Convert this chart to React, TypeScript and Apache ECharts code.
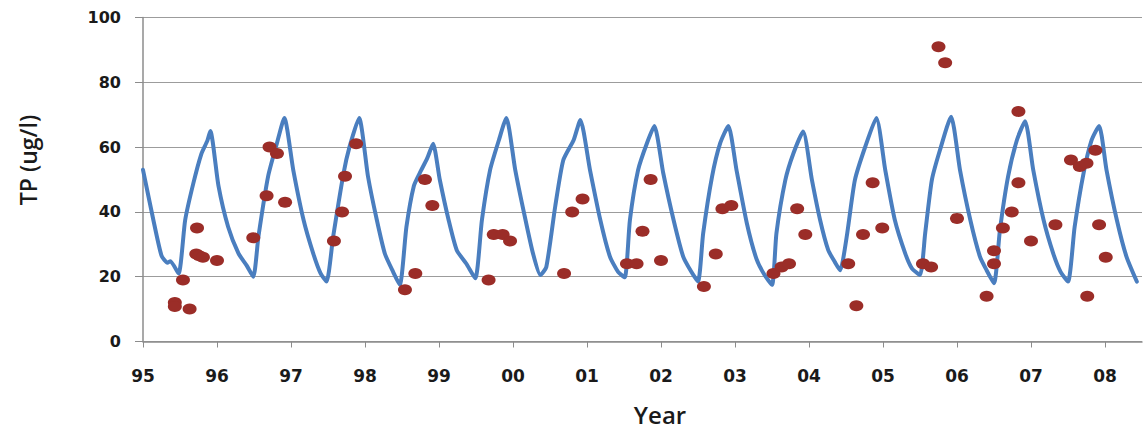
import React, { useEffect, useRef } from "react";
import * as echarts from "echarts";

// Modelled TP (blue line): decimal year and value
const lineYears: number[] = [
  1995.0, 1995.14, 1995.25, 1995.33, 1995.37, 1995.48, 1995.57, 1995.68, 1995.79, 1995.87, 1995.91,
  1996.02, 1996.15, 1996.29, 1996.4, 1996.49, 1996.56, 1996.69, 1996.81, 1996.91,
  1997.03, 1997.17, 1997.3, 1997.4, 1997.48, 1997.57, 1997.71, 1997.79, 1997.92,
  1998.04, 1998.16, 1998.27, 1998.38, 1998.47, 1998.56, 1998.66, 1998.74, 1998.84, 1998.92,
  1999.01, 1999.13, 1999.24, 1999.37, 1999.49, 1999.58, 1999.69, 1999.81, 1999.91,
  2000.03, 2000.16, 2000.27, 2000.37, 2000.45, 2000.57, 2000.68, 2000.82, 2000.91,
  2001.04, 2001.18, 2001.31, 2001.42, 2001.51, 2001.58, 2001.69, 2001.81, 2001.91,
  2002.03, 2002.17, 2002.3, 2002.41, 2002.5, 2002.57, 2002.69, 2002.8, 2002.91,
  2003.02, 2003.16, 2003.29, 2003.4, 2003.5, 2003.56, 2003.68, 2003.79, 2003.92,
  2004.04, 2004.15, 2004.26, 2004.35, 2004.42, 2004.51, 2004.62, 2004.76, 2004.91,
  2005.03, 2005.16, 2005.3, 2005.39, 2005.5, 2005.57, 2005.66, 2005.77, 2005.92,
  2006.04, 2006.18, 2006.31, 2006.4, 2006.5, 2006.58, 2006.69, 2006.81, 2006.92,
  2007.03, 2007.17, 2007.3, 2007.4, 2007.5, 2007.59, 2007.71, 2007.82, 2007.92,
  2008.02, 2008.16, 2008.29, 2008.43,
];
const lineValues: number[] = [
  53, 37.5, 26.5, 24.3, 24.8, 21, 37.5, 48.8, 58, 62, 65,
  48, 35.4, 27.2, 23.5, 20, 32.4, 50.9, 61.2, 69,
  53, 37.5, 27.2, 21, 18.5, 32.4, 51.9, 60, 69,
  51, 37.5, 27, 21.5, 17.5, 35.4, 48, 52, 56.5, 61,
  50, 37.5, 28.2, 24, 19.5, 37.5, 52.9, 62.2, 69,
  53, 38.5, 27.2, 20.5, 23, 41.6, 56, 62.2, 68.4,
  53, 37.5, 26.2, 21.5, 19.8, 37.5, 52.9, 61.2, 66.5,
  52, 37.5, 26.2, 21.5, 18.5, 33.4, 50.9, 61.2, 66.5,
  53, 36.5, 25.5, 20.5, 17.5, 33.4, 49.8, 58.1, 64.8,
  49.8, 37.5, 28.2, 24.5, 22, 32.4, 49.8, 60.1, 69,
  53, 37.5, 27.2, 22.6, 20.5, 33.4, 49.8, 59.1, 69.4,
  53, 37.5, 26.2, 22, 18, 34.4, 50.9, 62.2, 68,
  53, 37.5, 27.2, 21.5, 18.5, 35.4, 51.9, 62.2, 66.5,
  53, 37.5, 26.2, 18.5,
];

// Measured TP (red dots)
const obsYears: number[] = [
  1995.43, 1995.43, 1995.54, 1995.63, 1995.73, 1995.72, 1995.76, 1995.81, 1996.0,
  1996.49, 1996.67, 1996.71, 1996.81, 1996.92,
  1997.58, 1997.69, 1997.73, 1997.88,
  1998.54, 1998.68, 1998.81, 1998.91,
  1999.67, 1999.74, 1999.86, 1999.96,
  2000.69, 2000.8, 2000.94,
  2001.54, 2001.67, 2001.75, 2001.86, 2002.0,
  2002.58, 2002.74, 2002.83, 2002.95,
  2003.52, 2003.63, 2003.73, 2003.84, 2003.95,
  2004.53, 2004.64, 2004.73, 2004.86, 2004.99,
  2005.54, 2005.65, 2005.75, 2005.84, 2006.0,
  2006.4, 2006.5, 2006.5, 2006.62, 2006.74, 2006.83, 2006.83, 2007.0,
  2007.33, 2007.54, 2007.66, 2007.75, 2007.76, 2007.87, 2007.92, 2008.01,
];
const obsValues: number[] = [
  12, 10.8, 19, 10, 35, 27, 26.5, 26, 25,
  32, 45, 60, 58, 43,
  31, 40, 51, 61,
  16, 21, 50, 42,
  19, 33, 33, 31,
  21, 40, 44,
  24, 24, 34, 50, 25,
  17, 27, 41, 42,
  21, 23, 24, 41, 33,
  24, 11, 33, 49, 35,
  24, 23, 91, 86, 38,
  14, 24, 28, 35, 40, 49, 71, 31,
  36, 56, 54, 55, 14, 59, 36, 26,
];

const yTicks: number[] = [0, 20, 40, 60, 80, 100];
const yAxisTitle = "TP (ug/l)";
const xAxisTitle = "Year";

export default function App() {
  const ref = useRef<HTMLDivElement>(null);
  useEffect(() => {
    if (!ref.current) return;
    const chart = echarts.init(ref.current, undefined, { renderer: "svg" });
    const lineData = lineYears.map((x, i) => [x, lineValues[i]]);
    const obsData = obsYears.map((x, i) => [x, obsValues[i]]);
    const labelFont = {
      fontFamily: "DejaVu Sans",
      fontWeight: "bold" as const,
      color: "#1a1a1a",
    };
    chart.setOption({
      animation: false,
      backgroundColor: "#ffffff",
      grid: { left: 143, top: 17.5, right: 2, bottom: 89.5, containLabel: false },
      xAxis: {
        type: "value",
        min: 1995,
        max: 2008.5,
        interval: 1,
        axisLine: { show: true, lineStyle: { color: "#8c8c8c", width: 1.5 } },
        axisTick: { show: true, length: 6, lineStyle: { color: "#8c8c8c" } },
        splitLine: { show: false },
        axisLabel: {
          ...labelFont,
          fontSize: 17,
          margin: 26,
          showMaxLabel: false,
          formatter: (v: number) =>
            Number.isInteger(v) ? String(v % 100).padStart(2, "0") : "",
        },
      },
      yAxis: {
        type: "value",
        min: yTicks[0],
        max: yTicks[yTicks.length - 1],
        interval: 20,
        axisLine: { show: true, lineStyle: { color: "#8c8c8c", width: 1.5 } },
        axisTick: { show: true, length: 8, lineStyle: { color: "#8c8c8c" } },
        splitLine: { show: true, lineStyle: { color: "#9c9c9c", width: 1 } },
        axisLabel: { ...labelFont, fontSize: 16, margin: 22, padding: [5, 0, 0, 0] },
      },
      graphic: [
        {
          type: "text",
          x: 28,
          y: 160,
          rotation: Math.PI / 2,
          style: {
            text: yAxisTitle,
            font: "600 23px 'Open Sans'",
            fill: "#1a1a1a",
            textAlign: "center",
            textVerticalAlign: "middle",
          },
        },
        {
          type: "text",
          x: 660,
          y: 414,
          style: {
            text: xAxisTitle,
            font: "600 24px 'Open Sans'",
            fill: "#1a1a1a",
            textAlign: "center",
            textVerticalAlign: "middle",
          },
        },
      ],
      series: [
        {
          type: "line",
          data: lineData,
          showSymbol: false,
          symbol: "none",
          smooth: 0.2,
          lineStyle: { color: "#4a7ebf", width: 4, join: "round", cap: "round" },
          z: 2,
        },
        {
          type: "scatter",
          data: obsData,
          symbol: "circle",
          symbolSize: [14, 11],
          itemStyle: { color: "#9b2d28", opacity: 1 },
          z: 3,
        },
      ],
    });
    return () => chart.dispose();
  }, []);
  return (
    <div
      ref={ref}
      style={{ position: "absolute", left: 0, top: 0, width: 1144, height: 431 }}
    />
  );
}
